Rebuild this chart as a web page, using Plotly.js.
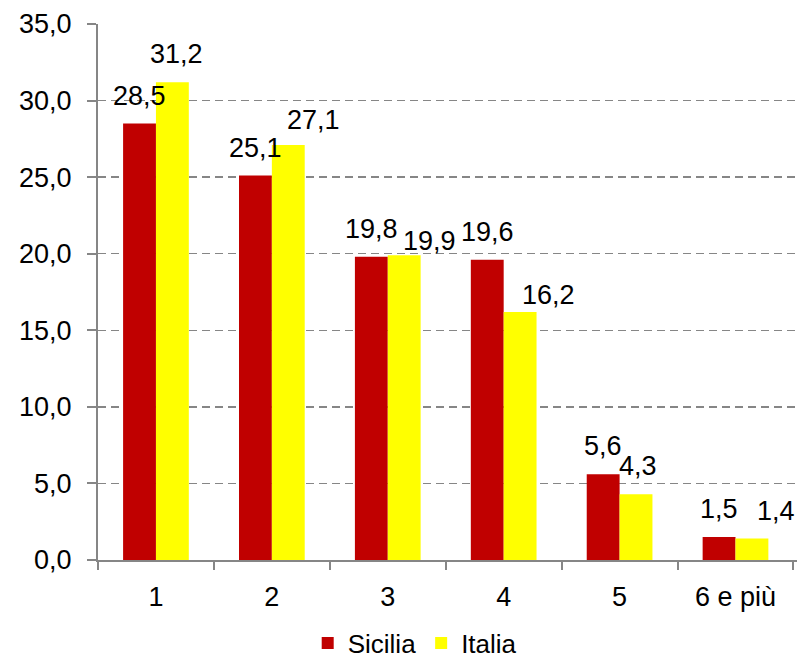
<!DOCTYPE html>
<html>
<head>
<meta charset="utf-8">
<script src="https://cdn.plot.ly/plotly-3.0.1.min.js"></script>
<style>
  html, body { margin: 0; padding: 0; background: #fff; }
  #chart { width: 798px; height: 660px; }
</style>
</head>
<body>
<div id="chart"></div>
<script>
// Famiglie per numero di componenti (%)
const categories = ['1', '2', '3', '4', '5', '6 e più'];
const sicilia = [28.5, 25.1, 19.8, 19.6, 5.6, 1.5];
const italia = [31.2, 27.1, 19.9, 16.2, 4.3, 1.4];
const seriesNames = ['Sicilia', 'Italia'];

const fmt = v => v.toFixed(1).replace('.', ',');

const FONT = 'Liberation Sans, Arial, sans-serif';
const FS = 27;
const barHalf = 16.5;
const labelLift = 11;

// hand-placed label offsets (px) for the Italia labels that were moved aside
const italiaNudge = {
  0: [4, 0],
  1: [25, -3],
  2: [25, -14],
  3: [28, -11],
  4: [2, 0],
  5: [24, 0]
};

const traces = [
  { type: 'bar', name: seriesNames[0], x: categories, y: sicilia,
    marker: { color: '#C00000' }, hoverinfo: 'none' },
  { type: 'bar', name: seriesNames[1], x: categories, y: italia,
    marker: { color: '#FFFF00' }, hoverinfo: 'none' }
];

// value labels above each bar (x given as category index)
const annotations = [];
function addLabels(vals, side, nudge) {
  vals.forEach((v, i) => {
    const n = (nudge && nudge[i]) || [0, 0];
    annotations.push({
      x: i, y: v, xref: 'x', yref: 'y',
      text: fmt(v), showarrow: false,
      xshift: side * barHalf + n[0], yshift: labelLift + n[1], yanchor: 'bottom',
      font: { family: FONT, size: FS, color: '#000' }
    });
  });
}
addLabels(sicilia, -1, null);
addLabels(italia, 1, italiaNudge);

const layout = {
  width: 798, height: 660,
  margin: { l: 98, r: 1, t: 24, b: 100, autoexpand: false },
  paper_bgcolor: '#fff', plot_bgcolor: '#fff',
  barmode: 'group', bargap: 0.433, bargroupgap: 0,
  separators: ',.',
  font: { family: FONT, size: FS, color: '#000' },
  showlegend: true,
  legend: {
    orientation: 'h', x: 0.3, xanchor: 'left', y: -0.155, yanchor: 'middle',
    font: { family: FONT, size: 26, color: '#000' },
    itemwidth: 30, traceorder: 'normal', tracegroupgap: 0
  },
  xaxis: {
    type: 'category', tickson: 'boundaries',
    showline: true, linecolor: '#868686', linewidth: 2,
    ticks: 'outside', ticklen: 8, tickcolor: '#868686', tickwidth: 2,
    ticklabelstandoff: 12,
    showgrid: false, zeroline: false, fixedrange: true,
    tickfont: { family: FONT, size: FS, color: '#000' }
  },
  yaxis: {
    range: [0, 35], dtick: 5, tick0: 0, tickformat: '.1f',
    showline: true, linecolor: '#868686', linewidth: 2,
    ticks: 'outside', ticklen: 9, tickcolor: '#868686', tickwidth: 2,
    ticklabelstandoff: 10,
    showgrid: true, gridcolor: '#868686', gridwidth: 1.5, griddash: '8px,5px',
    zeroline: false, fixedrange: true,
    tickfont: { family: FONT, size: FS, color: '#000' }
  },
  annotations: annotations
};

Plotly.newPlot('chart', traces, layout, { displayModeBar: false, staticPlot: true });
</script>
</body>
</html>
